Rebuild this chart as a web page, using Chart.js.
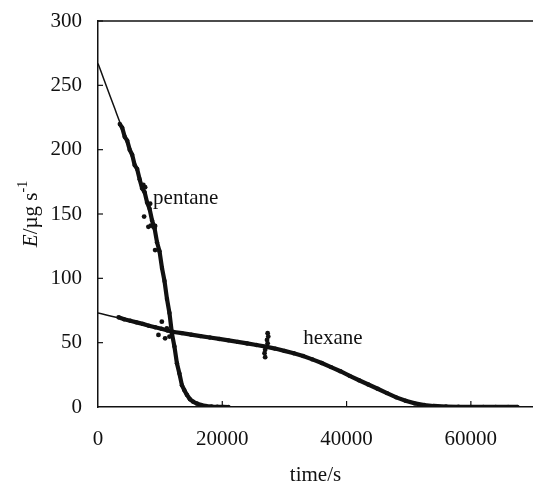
<!DOCTYPE html>
<html>
<head>
<meta charset="utf-8">
<script src="https://cdn.jsdelivr.net/npm/chart.js@4/dist/chart.umd.min.js"></script>
<style>
  html, body { margin: 0; padding: 0; background: #fff; overflow: hidden; }
  #wrap { width: 533px; height: 486px; position: relative; }
  #chart { display: block; }
</style>
</head>
<body>
<div id="wrap"><canvas id="chart"></canvas></div>
<script>
// tick labels
const xTicks = [0, 20000, 40000, 60000];
const yTicks = [0, 50, 100, 150, 200, 250, 300];

// fitted curves (time/s, E/µg s-1)
const pentaneFitT = [0, 1000, 2000, 3000, 4000, 5000, 6000, 7000, 8000, 9000, 10000, 11000, 12000, 12500, 13000, 13500, 14000, 14500, 15000, 16000, 17000, 18000, 20000, 21000];
const pentaneFitE = [267, 254, 241, 228, 215, 202, 188, 174, 158, 140, 118, 88, 55, 40, 27, 18, 12, 8, 5, 2.5, 1, 0.5, 0, 0];
const hexaneFitT = [0, 4000, 8000, 12000, 16000, 20000, 24000, 28000, 32000, 35000, 38000, 41000, 44000, 47000, 50000, 53000, 56000, 60000, 68000];
const hexaneFitE = [73, 68.5, 63.5, 58.5, 55.5, 52.5, 49.5, 46, 41, 36, 30, 23, 16.5, 9.5, 4, 1, 0.3, 0, 0];

// measured points
const pentaneT = [3500, 3900, 4300, 4700, 5100, 5500, 5900, 6300, 6700, 7100, 7500, 7900, 8300, 8700, 9100, 9500, 9900, 10300, 10700, 11100, 11500, 11900, 12300, 12700, 13100, 13500, 13900, 14300, 14800, 15300, 15900, 16600, 17400, 18300, 19200, 20100, 21000];
const pentaneE = [220, 217, 210, 207, 200, 196, 188, 185, 177, 170, 167, 159, 154, 145, 139, 128, 121, 108, 98, 84, 73, 57, 47, 34, 26, 17, 13, 9.5, 6, 4.2, 2.7, 1.6, 0.8, 0.4, 0.2, 0.1, 0];
const pentaneOutT = [7300, 7580, 8390, 7420, 8110, 8500, 9190, 9190, 8920];
const pentaneOutE = [172.6, 170.8, 158, 148, 140, 141, 140.7, 122, 140];

const hexaneT = [3300, 4200, 5200, 6200, 7200, 8200, 9200, 10200, 11200, 12200, 13500, 15000, 16500, 18000, 19500, 21000, 22500, 24000, 25500, 27000, 28500, 30000, 31500, 33000, 34500, 36000, 37500, 39000, 40500, 42000, 43500, 45000, 46500, 48000, 49500, 51000, 52500, 54000, 56000, 58000, 60000, 62000, 64000, 66000, 67500];
const hexaneE = [69.8, 68.2, 67.0, 65.8, 64.6, 63.2, 62.0, 60.8, 59.5, 58.3, 57.4, 56.2, 55.1, 54.0, 52.9, 51.8, 50.6, 49.4, 48.2, 46.9, 45.4, 43.6, 41.8, 39.6, 37.0, 34.2, 31.0, 27.8, 24.2, 20.8, 17.5, 14.2, 10.8, 7.5, 4.8, 2.8, 1.5, 0.8, 0.4, 0.2, 0.1, 0.1, 0.1, 0.1, 0.1];
const hexaneOutT = [9730, 10270, 10800, 11080, 11500, 27300, 27400, 27200, 27300, 26900, 26800, 26900];
const hexaneOutE = [56, 66.3, 53.4, 61, 54.7, 57.3, 54.7, 52.1, 49.5, 44.4, 41.8, 38.7];

// label anchors in data units
const seriesLabels = [
  { text: 'pentane', t: 8870, e: 157.8 },
  { text: 'hexane', t: 33020, e: 48.8 }
];

const INK = '#111';
const SERIF = '"Liberation Serif", "Times New Roman", serif';

function toPoints(ts, es) {
  return ts.map((t, i) => ({ x: t, y: es[i] }));
}

function fitSet(ts, es) {
  return {
    type: 'line',
    data: toPoints(ts, es),
    borderColor: INK,
    borderWidth: 1.5,
    pointRadius: 0,
    cubicInterpolationMode: 'monotone',
    fill: false,
    order: 2
  };
}

function measuredSet(ts, es) {
  return {
    type: 'line',
    data: toPoints(ts, es),
    borderColor: INK,
    borderWidth: 4.2,
    backgroundColor: INK,
    pointRadius: 2.2,
    pointBorderWidth: 0,
    tension: 0,
    fill: false,
    order: 1
  };
}

function scatterSet(ts, es) {
  return {
    type: 'scatter',
    data: toPoints(ts, es),
    backgroundColor: INK,
    borderColor: INK,
    pointRadius: 2.4,
    pointBorderWidth: 0,
    order: 0
  };
}

const framePlugin = {
  id: 'frame',
  afterDraw(chart) {
    const { ctx, chartArea: area, scales } = chart;
    ctx.save();
    ctx.strokeStyle = INK;
    ctx.lineWidth = 1.5;
    // top line of the frame
    ctx.beginPath();
    ctx.moveTo(area.left, area.top);
    ctx.lineTo(area.right, area.top);
    ctx.stroke();

    // inward tick marks
    ctx.lineWidth = 1.2;
    yTicks.forEach(v => {
      if (v === 0) return;
      const y = scales.y.getPixelForValue(v);
      ctx.beginPath();
      ctx.moveTo(area.left, y);
      ctx.lineTo(area.left + 5, y);
      ctx.stroke();
    });
    xTicks.forEach(v => {
      if (v === 0) return;
      const x = scales.x.getPixelForValue(v);
      ctx.beginPath();
      ctx.moveTo(x, area.bottom);
      ctx.lineTo(x, area.bottom - 6);
      ctx.stroke();
    });

    // series names
    ctx.fillStyle = INK;
    ctx.font = `21px ${SERIF}`;
    ctx.textBaseline = 'alphabetic';
    ctx.textAlign = 'left';
    seriesLabels.forEach(l => {
      ctx.fillText(l.text, scales.x.getPixelForValue(l.t), scales.y.getPixelForValue(l.e));
    });

    // x title
    ctx.textAlign = 'center';
    ctx.textBaseline = 'middle';
    ctx.fillText('time/s', (area.left + area.right) / 2, 475);

    // y title: E/µg s-1 with italic E and superscript
    ctx.translate(37, (area.top + area.bottom) / 2);
    ctx.rotate(-Math.PI / 2);
    ctx.textBaseline = 'alphabetic';
    ctx.textAlign = 'left';
    const parts = [
      { s: 'E', font: `italic 21px ${SERIF}`, dy: 0 },
      { s: '/\u00b5g s', font: `21px ${SERIF}`, dy: 0 },
      { s: '-1', font: `14px ${SERIF}`, dy: -10 }
    ];
    let total = 0;
    parts.forEach(p => { ctx.font = p.font; p.w = ctx.measureText(p.s).width; total += p.w; });
    let cx = -total / 2;
    parts.forEach(p => {
      ctx.font = p.font;
      ctx.fillText(p.s, cx, p.dy);
      cx += p.w;
    });
    ctx.restore();
  }
};

new Chart(document.getElementById('chart'), {
  data: {
    datasets: [
      fitSet(pentaneFitT, pentaneFitE),
      fitSet(hexaneFitT, hexaneFitE),
      measuredSet(pentaneT, pentaneE),
      measuredSet(hexaneT, hexaneE),
      scatterSet(pentaneOutT, pentaneOutE),
      scatterSet(hexaneOutT, hexaneOutE)
    ]
  },
  options: {
    responsive: true,
    maintainAspectRatio: false,
    animation: false,
    layout: { autoPadding: false, padding: { top: 21, right: 0, left: 0, bottom: 0 } },
    plugins: {
      legend: { display: false },
      tooltip: { enabled: false }
    },
    scales: {
      x: {
        type: 'linear',
        min: 0,
        max: 70000,
        grid: { display: false, drawTicks: false },
        border: { display: true, color: INK, width: 1.5 },
        afterBuildTicks: scale => { scale.ticks = xTicks.map(v => ({ value: v })); },
        afterFit: scale => {
          scale.height = 79;
          scale.paddingLeft = 0;
          scale.paddingRight = 0;
        },
        ticks: {
          color: INK,
          padding: 20,
          maxRotation: 0,
          font: { family: SERIF, size: 21 },
          callback: v => String(v)
        }
      },
      y: {
        min: 0,
        max: 300,
        grid: { display: false, drawTicks: false },
        border: { display: true, color: INK, width: 1.5 },
        afterBuildTicks: scale => { scale.ticks = yTicks.map(v => ({ value: v })); },
        afterFit: scale => {
          scale.width = 98;
          scale.paddingTop = 0;
          scale.paddingBottom = 0;
        },
        ticks: {
          color: INK,
          padding: 16,
          font: { family: SERIF, size: 21 },
          callback: v => String(v)
        }
      }
    }
  },
  plugins: [framePlugin]
});
</script>
</body>
</html>
